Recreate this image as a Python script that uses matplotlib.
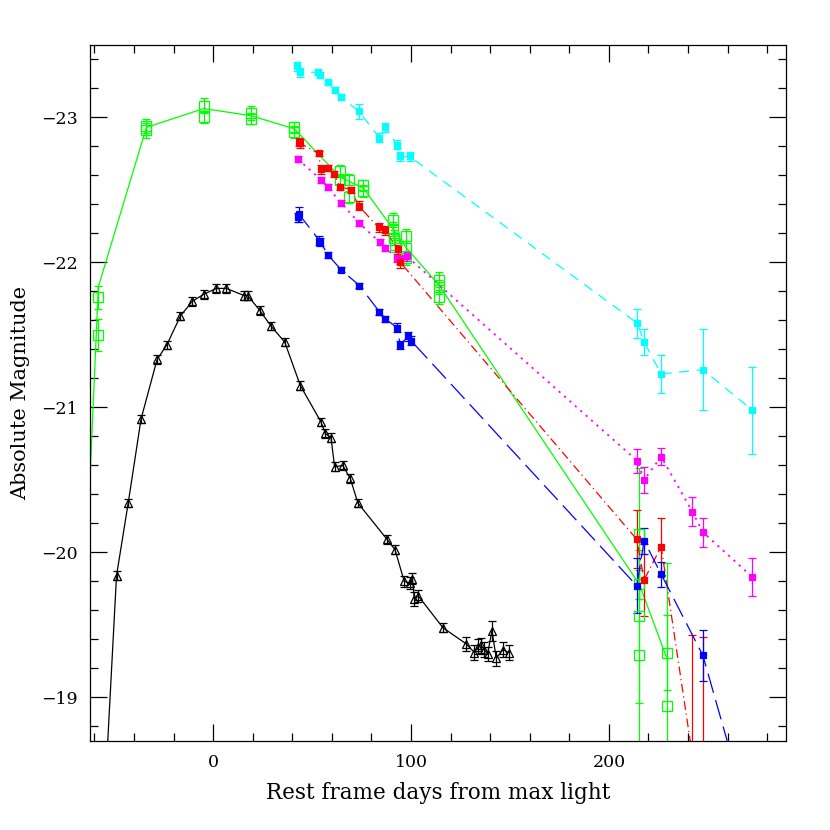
import matplotlib
matplotlib.use("Agg")
import matplotlib.pyplot as plt
from matplotlib.ticker import MultipleLocator

plt.rcParams['font.family'] = ['DejaVu Serif']
plt.rcParams['axes.unicode_minus'] = True

# ---- data (rest-frame days, absolute magnitude, error) ----
black_days = [-54, -48.8, -42.9, -36.4, -28.3, -23.4, -16.5, -10.6, -4.7, 1.7, 6.7, 15.8, 17.5,
              23.5, 29.3, 36.2, 44.1, 54.5, 56.7, 59.6, 61.4, 65.5, 69.3, 73.2, 87.9, 91.9,
              96.6, 99.6, 100.7, 101.7, 103.7, 116.2, 127.9, 132.0, 134.1, 135.5, 137.0,
              138.7, 140.9, 143.1, 146.5, 149.3]
black_mags = [-18.5, -19.84, -20.34, -20.92, -21.33, -21.43, -21.63, -21.73, -21.78, -21.82, -21.82,
              -21.77, -21.77, -21.67, -21.56, -21.45, -21.15, -20.90, -20.82, -20.79, -20.59,
              -20.60, -20.51, -20.34, -20.09, -20.02, -19.80, -19.79, -19.82, -19.68, -19.70,
              -19.48, -19.37, -19.31, -19.35, -19.36, -19.33, -19.30, -19.46, -19.27, -19.33,
              -19.31]
black_errs = [0.03, 0.03, 0.03, 0.03, 0.03, 0.03, 0.03, 0.03, 0.03, 0.03, 0.03, 0.03, 0.03,
              0.03, 0.03, 0.03, 0.03, 0.03, 0.03, 0.03, 0.03, 0.03, 0.03, 0.03, 0.03, 0.03,
              0.04, 0.04, 0.04, 0.05, 0.04, 0.03, 0.05, 0.05, 0.05, 0.05, 0.05, 0.05, 0.07,
              0.05, 0.05, 0.05]

cyan_days = [42.4, 44.1, 53.0, 54.2, 57.9, 61.4, 64.6, 73.7, 84.0, 87.0, 92.9, 94.6, 99.3,
             214.4, 217.8, 226.4, 247.5, 272.5]
cyan_mags = [-23.35, -23.31, -23.31, -23.29, -23.24, -23.19, -23.14, -23.04, -22.86, -22.93,
             -22.81, -22.73, -22.73, -21.58, -21.45, -21.23, -21.26, -20.98]
cyan_errs = [0.03, 0.03, 0.02, 0.02, 0.02, 0.02, 0.02, 0.05, 0.03, 0.03, 0.03, 0.03, 0.03,
             0.10, 0.09, 0.13, 0.28, 0.30]

magenta_days = [42.9, 54.5, 57.9, 64.6, 73.9, 84.1, 87.0, 92.9, 94.2, 98.0,
                214.4, 217.8, 226.4, 242.2, 247.5, 272.5]
magenta_mags = [-22.71, -22.57, -22.52, -22.41, -22.27, -22.14, -22.10, -22.03, -22.02, -22.04,
                -20.63, -20.50, -20.66, -20.28, -20.14, -19.83]
magenta_errs = [0.02, 0.02, 0.02, 0.02, 0.02, 0.02, 0.02, 0.03, 0.03, 0.03,
                0.08, 0.09, 0.06, 0.10, 0.10, 0.13]

red_days = [43.2, 44.0, 53.3, 54.5, 58.1, 60.9, 64.3, 69.7, 73.5, 83.6, 87.0, 93.2, 94.6,
            214.1, 217.8, 226.4, 242.2, 247.5]
red_mags = [-22.83, -22.82, -22.75, -22.64, -22.65, -22.61, -22.52, -22.50, -22.39, -22.24,
            -22.22, -22.09, -22.00, -20.09, -19.81, -20.04, -18.60, -18.30]
red_errs = [0.03, 0.03, 0.02, 0.03, 0.02, 0.02, 0.02, 0.02, 0.03, 0.03, 0.03, 0.03, 0.04,
            0.20, 0.25, 0.20, 0.83, 1.12]

blue_days = [42.7, 43.5, 53.7, 54.2, 58.1, 64.6, 73.9, 84.0, 87.0, 92.9, 94.6, 98.5, 100.0,
             214.1, 217.8, 226.4, 247.5, 265.0]
blue_mags = [-22.31, -22.33, -22.15, -22.14, -22.05, -21.95, -21.84, -21.66, -21.61, -21.55,
             -21.43, -21.49, -21.46, -19.77, -20.08, -19.85, -19.29, -18.45]
blue_errs = [0.03, 0.05, 0.03, 0.03, 0.02, 0.02, 0.02, 0.02, 0.02, 0.03, 0.03, 0.03, 0.03,
             0.19, 0.09, 0.085, 0.175, 0.20]

green_days = [-58.0, -58.0, -33.7, -33.7, -4.7, -4.7, 19.3, 19.3, 41.1, 41.1,
              63.9, 63.9, 68.5, 68.5, 76.0, 76.0, 91.0, 91.0, 91.5, 92.0,
              97.6, 97.6, 97.6, 114.3, 114.3, 114.3,
              215.4, 215.4, 215.4, 215.4, 229.3, 229.3]
green_mags = [-21.76, -21.50, -22.94, -22.91, -23.08, -23.00, -23.03, -22.99, -22.93, -22.90,
              -22.63, -22.57, -22.57, -22.45, -22.53, -22.49, -22.29, -22.23, -22.17, -22.12,
              -22.18, -22.10, -22.03, -21.88, -21.83, -21.76,
              -20.13, -19.78, -19.56, -19.29, -19.31, -18.94]
green_errs = [0.08, 0.11, 0.05, 0.05, 0.05, 0.04, 0.05, 0.04, 0.04, 0.04,
              0.04, 0.04, 0.04, 0.04, 0.04, 0.04, 0.05, 0.05, 0.05, 0.05,
              0.05, 0.05, 0.05, 0.05, 0.05, 0.05,
              0.45, 0.10, 0.60, 0.73, 0.26, 0.99]

# epoch-averaged green curve
green_line_days = [-64.3, -58.0, -33.7, -4.7, 19.3, 41.1, 64.0, 76.0, 91.5, 97.6, 114.3, 215.4, 229.3]
green_line_mags = [-19.85, -21.83, -22.93, -23.06, -23.01, -22.92, -22.59, -22.51, -22.22, -22.10,
                   -21.84, -19.78, -19.27]

fig = plt.figure(figsize=(8.3, 8.3), dpi=100)
ax = fig.add_axes([90/830, 1-741/830, (786-90)/830, (741-44.7)/830])

def series(d, m, e, color, ls, marker, ms, filled=True, lw=0.9, zl=2):
    ax.errorbar(d, m, yerr=e, fmt='none', ecolor=color, elinewidth=0.9,
                capsize=3.2, capthick=0.9, zorder=zl)
    if ls is not None:
        ax.plot(d, m, color=color, lw=lw, linestyle=ls, zorder=zl)
    ax.plot(d, m, linestyle='none', marker=marker, ms=ms,
            mfc=color if filled else 'none', mec=color, mew=0.9, zorder=zl + 0.5)

# green
ax.plot(green_line_days, green_line_mags, color='#00ff00', lw=0.9, zorder=2)
series(green_days, green_mags, green_errs, '#00ff00', None, 's', 6.5, filled=False)
# cyan
series(cyan_days, cyan_mags, cyan_errs, '#00ffff', (0, (8, 6)), 's', 4.5)
# magenta
series(magenta_days, magenta_mags, magenta_errs, '#ff00ff', (0, (1.2, 2.8)), 's', 4.5, lw=1.3)
# red
series(red_days, red_mags, red_errs, '#ff0000', (0, (7, 3, 1, 3)), 's', 4.5)
# blue
series(blue_days, blue_mags, blue_errs, '#0000ff', (0, (16, 6)), 's', 4.5)
# black
series(black_days, black_mags, black_errs, 'black', '-', '^', 5.5, filled=False, zl=3)

ax.set_xlim(-62.2, 289.5)
ax.set_ylim(-18.7, -23.5)

ax.xaxis.set_major_locator(MultipleLocator(100))
ax.xaxis.set_minor_locator(MultipleLocator(20))
ax.yaxis.set_major_locator(MultipleLocator(1))
ax.yaxis.set_minor_locator(MultipleLocator(0.2))
ax.tick_params(which='both', direction='in', top=True, right=True, width=0.9,
               labelsize=12.5, pad=9)
ax.tick_params(which='major', length=12)
ax.tick_params(which='minor', length=6)
for sp in ax.spines.values():
    sp.set_linewidth(0.9)

ax.set_xlabel('Rest frame days from max light', fontsize=15.5, labelpad=8)
ax.set_ylabel('Absolute Magnitude', fontsize=15, labelpad=8)

fig.savefig('out.png', dpi=100)
